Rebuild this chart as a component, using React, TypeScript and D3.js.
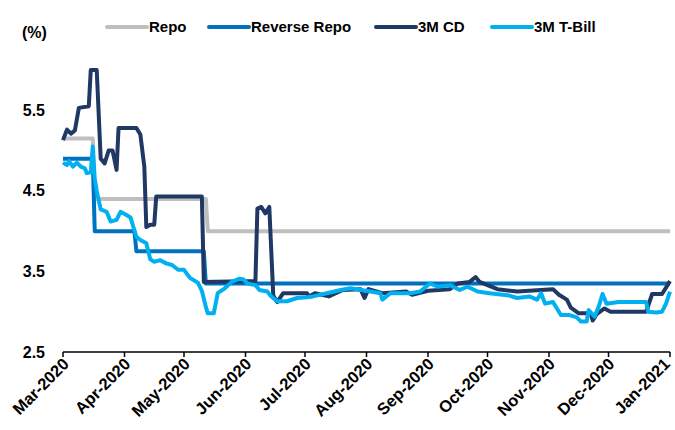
import React from 'react';
import * as d3 from 'd3';

const seriesNames = ['Repo', 'Reverse Repo', '3M CD', '3M T-Bill'];
const seriesColors = ['#BFBFBF', '#0070C0', '#1F3864', '#00B0F0'];

const repoDates = ['2020-03-01', '2020-03-16', '2020-03-17', '2020-05-12', '2020-05-13', '2021-01-01'];
const repoValues = [5.15, 5.15, 4.4, 4.4, 4.0, 4.0];

const reverseRepoDates = ['2020-03-01', '2020-03-16', '2020-03-17', '2020-04-06', '2020-04-07', '2020-05-11', '2020-05-12', '2021-01-01'];
const reverseRepoValues = [4.9, 4.9, 4.0, 4.0, 3.75, 3.75, 3.35, 3.35];

const cdDates = [
  '2020-03-01', '2020-03-03', '2020-03-05', '2020-03-07', '2020-03-09', '2020-03-14', '2020-03-15', '2020-03-18',
  '2020-03-20', '2020-03-22', '2020-03-24', '2020-03-26', '2020-03-28', '2020-03-29', '2020-04-07', '2020-04-09',
  '2020-04-11', '2020-04-12', '2020-04-14', '2020-04-16', '2020-04-17', '2020-05-10', '2020-05-11', '2020-06-06',
  '2020-06-07', '2020-06-09', '2020-06-11', '2020-06-13', '2020-06-15', '2020-06-17', '2020-06-20', '2020-07-02',
  '2020-07-03', '2020-07-06', '2020-07-13', '2020-07-20', '2020-07-29', '2020-07-31', '2020-08-02', '2020-08-09',
  '2020-08-21', '2020-08-24', '2020-09-01', '2020-09-12', '2020-09-16', '2020-09-22', '2020-09-25', '2020-09-27',
  '2020-10-01', '2020-10-06', '2020-10-16', '2020-11-03', '2020-11-06', '2020-11-10', '2020-11-12', '2020-11-16',
  '2020-11-22', '2020-11-23', '2020-11-25', '2020-11-29', '2020-12-02', '2020-12-20', '2020-12-23', '2020-12-28',
  '2021-01-01',
];
const cdValues = [
  5.13, 5.26, 5.21, 5.25, 5.53, 5.55, 6.0, 6.0,
  4.9, 4.84, 5.0, 5.0, 4.76, 5.28, 5.28, 5.2,
  4.8, 4.05, 4.08, 4.08, 4.43, 4.43, 3.37, 3.38,
  4.28, 4.3, 4.22, 4.3, 3.2, 3.12, 3.23, 3.23,
  3.19, 3.23, 3.19, 3.27, 3.28, 3.17, 3.28, 3.23,
  3.25, 3.21, 3.26, 3.28, 3.35, 3.37, 3.43, 3.37,
  3.33, 3.28, 3.25, 3.28, 3.21, 3.15, 3.05, 2.98,
  2.98, 2.89, 2.97, 3.04, 3.0, 3.0, 3.22, 3.22,
  3.38,
];

const tbillDates = [
  '2020-03-01', '2020-03-03', '2020-03-04', '2020-03-06', '2020-03-08', '2020-03-10', '2020-03-12', '2020-03-13',
  '2020-03-15', '2020-03-16', '2020-03-17', '2020-03-18', '2020-03-20', '2020-03-23', '2020-03-25', '2020-03-28',
  '2020-03-30', '2020-04-02', '2020-04-04', '2020-04-07', '2020-04-09', '2020-04-12', '2020-04-14', '2020-04-16',
  '2020-04-19', '2020-04-22', '2020-04-25', '2020-04-28', '2020-05-01', '2020-05-04', '2020-05-08', '2020-05-10',
  '2020-05-12', '2020-05-13', '2020-05-16', '2020-05-18', '2020-05-21', '2020-05-25', '2020-05-29', '2020-05-31',
  '2020-06-02', '2020-06-06', '2020-06-08', '2020-06-12', '2020-06-14', '2020-06-17', '2020-06-22', '2020-06-27',
  '2020-07-02', '2020-07-05', '2020-07-12', '2020-07-19', '2020-07-24', '2020-08-03', '2020-08-08', '2020-08-09',
  '2020-08-13', '2020-08-23', '2020-08-28', '2020-09-02', '2020-09-06', '2020-09-12', '2020-09-17', '2020-09-21',
  '2020-09-26', '2020-10-02', '2020-10-12', '2020-10-16', '2020-10-22', '2020-10-26', '2020-10-28', '2020-10-30',
  '2020-11-03', '2020-11-07', '2020-11-11', '2020-11-15', '2020-11-17', '2020-11-20', '2020-11-21', '2020-11-24',
  '2020-11-26', '2020-11-28', '2020-11-30', '2020-12-06', '2020-12-20', '2020-12-21', '2020-12-25', '2020-12-28',
  '2020-12-30', '2021-01-01',
];
const tbillValues = [
  4.85, 4.82, 4.87, 4.8, 4.85, 4.8, 4.78, 4.72,
  4.73, 5.05, 4.65, 4.5, 4.27, 4.24, 4.12, 4.14,
  4.24, 4.2, 4.17, 3.93, 3.89, 3.85, 3.65, 3.62,
  3.64, 3.6, 3.58, 3.52, 3.52, 3.42, 3.36, 3.26,
  3.06, 2.98, 2.98, 3.23, 3.28, 3.37, 3.41, 3.4,
  3.35, 3.33, 3.27, 3.25, 3.19, 3.13, 3.13, 3.17,
  3.18, 3.19, 3.23, 3.27, 3.29, 3.25, 3.23, 3.15,
  3.23, 3.23, 3.25, 3.35, 3.31, 3.33, 3.27, 3.31,
  3.25, 3.23, 3.2, 3.17, 3.19, 3.15, 3.23, 3.1,
  3.12, 2.96, 2.96, 2.93, 2.88, 2.88, 3.02, 2.94,
  3.06, 3.22, 3.1, 3.12, 3.12, 3.0, 2.99, 3.0,
  3.1, 3.25,
];

const yTicks = [2.5, 3.5, 4.5, 5.5];
const yUnitLabel = '(%)';
const xStart = '2020-03-01';
const xEnd = '2021-01-01';

const FONT = "'Liberation Sans Narrow', 'Arial Narrow', 'Liberation Sans', Arial, sans-serif";

export default function App() {
  const W = 675;
  const H = 430;
  const left = 63;
  const right = 670;
  const top = 70;
  const bottom = 352;
  const parse = d3.timeParse('%Y-%m-%d');

  const x = d3.scaleTime().domain([parse(xStart)!, parse(xEnd)!]).range([left, right]);
  const y = d3.scaleLinear().domain([2.5, 6.0]).range([bottom, top]);

  const allDates = [repoDates, reverseRepoDates, cdDates, tbillDates];
  const allValues = [repoValues, reverseRepoValues, cdValues, tbillValues];

  const line = d3
    .line<[Date, number]>()
    .x((d) => x(d[0]))
    .y((d) => y(d[1]));

  const paths = allDates.map((ds, i) =>
    line(ds.map((s, j) => [parse(s)!, allValues[i][j]] as [Date, number]))
  );

  const months = d3.timeMonth.range(parse(xStart)!, d3.timeDay.offset(parse(xEnd)!, 1));
  const fmt = d3.timeFormat('%b-%Y');

  const legendX = [107, 209, 376, 492];

  return (
    <svg width={W} height={H} style={{ position: 'absolute', left: 0, top: 0, background: '#fff' }}>
      <defs>
        <clipPath id="plotClip">
          <rect x={left - 5} y={top - 2} width={right - left + 10} height={bottom - top + 10} />
        </clipPath>
      </defs>
      <rect width={W} height={H} fill="#fff" />
      {yTicks.map((t) => (
        <text
          key={t}
          x={45}
          y={y(t)}
          dy="0.35em"
          textAnchor="end"
          fontFamily={FONT}
          fontWeight="bold"
          fontSize={16}
          fill="#000"
        >
          {t.toFixed(1)}
        </text>
      ))}
      <text x={22} y={38} fontFamily={FONT} fontWeight="bold" fontSize={16} fill="#000">
        {yUnitLabel}
      </text>
      <line x1={left} x2={right} y1={bottom} y2={bottom} stroke="#000" strokeWidth={1.5} />
      {months.map((m, i) => (
        <g key={i}>
          <line x1={x(m)} x2={x(m)} y1={bottom} y2={bottom + 5} stroke="#000" strokeWidth={1.5} />
          <text
            transform={`translate(${Math.min(x(m) + 3, 667)},${bottom + 9}) rotate(-45)`}
            textAnchor="end"
            dy="0.35em"
            fontFamily={FONT}
            fontWeight="bold"
            fontSize={16.5}
            fill="#000"
          >
            {fmt(m)}
          </text>
        </g>
      ))}
      <g clipPath="url(#plotClip)">
        {paths.map((p, i) => (
          <path
            key={i}
            d={p || ''}
            fill="none"
            stroke={seriesColors[i]}
            strokeWidth={4}
            strokeLinejoin="round"
            strokeLinecap="butt"
          />
        ))}
      </g>
      {seriesNames.map((n, i) => (
        <g key={n}>
          <line
            x1={legendX[i]}
            x2={legendX[i] + 40}
            y1={27}
            y2={27}
            stroke={seriesColors[i]}
            strokeWidth={4}
            strokeLinecap="round"
          />
          <text
            x={legendX[i] + 42}
            y={27}
            dy="0.35em"
            fontFamily={FONT}
            fontWeight="bold"
            fontSize={15}
            fill="#000"
          >
            {n}
          </text>
        </g>
      ))}
    </svg>
  );
}
